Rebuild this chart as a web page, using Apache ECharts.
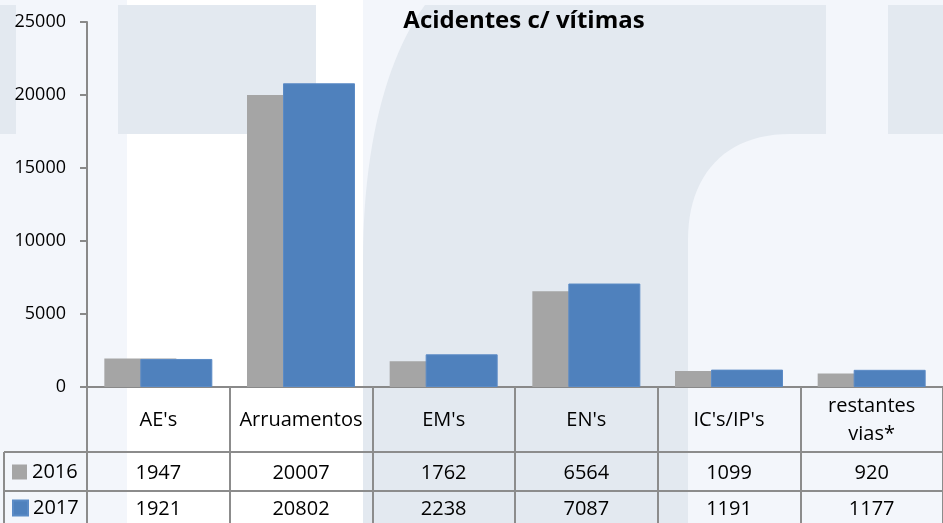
<!DOCTYPE html>
<html>
<head>
<meta charset="utf-8">
<script src="https://cdn.jsdelivr.net/npm/echarts@6/dist/echarts.min.js"></script>
<style>
html,body{margin:0;padding:0;background:#f3f6fb;}
#chart{width:943px;height:523px;}
</style>
</head>
<body>
<div id="chart"></div>
<script>
const categories = ["AE's", "Arruamentos", "EM's", "EN's", "IC's/IP's", "restantes\nvias*"];
const seriesNames = ["2016", "2017"];
const values2016 = [1947, 20007, 1762, 6564, 1099, 920];
const values2017 = [1921, 20802, 2238, 7087, 1191, 1177];
const yTicks = [0, 5000, 10000, 15000, 20000, 25000];

const FONT = '"Open Sans", sans-serif';
const LINE = '#8c8c8c';
const DARK = '#e3e9f0';

const chart = echarts.init(document.getElementById('chart'), null, {renderer: 'canvas'});

// decorative watermark outline (cubic curves sampled into a polygon)
function cubic(p0, p1, p2, p3, n) {
  const pts = [];
  for (let k = 0; k <= n; k++) {
    const t = k / n, u = 1 - t;
    pts.push([
      u*u*u*p0[0] + 3*u*u*t*p1[0] + 3*u*t*t*p2[0] + t*t*t*p3[0],
      u*u*u*p0[1] + 3*u*u*t*p1[1] + 3*u*t*t*p2[1] + t*t*t*p3[1]
    ]);
  }
  return pts;
}
const logoPts = [[363, 523]]
  .concat(cubic([363, 260], [363, 150], [385, 60], [425, 5], 24))
  .concat([[826, 5], [826, 134]])
  .concat(cubic([790, 134], [725, 134], [688, 175], [688, 240], 24))
  .concat([[688, 523]]);

const bgShapes = [
  {type: 'rect', shape: {x: 127, y: 0, width: 236, height: 523}, style: {fill: '#ffffff'}, z: -5, silent: true},
  {type: 'rect', shape: {x: 0, y: 5, width: 16, height: 129}, style: {fill: DARK}, z: -4, silent: true},
  {type: 'rect', shape: {x: 118, y: 5, width: 198, height: 129}, style: {fill: DARK}, z: -4, silent: true},
  {type: 'rect', shape: {x: 888, y: 5, width: 55, height: 129}, style: {fill: DARK}, z: -4, silent: true},
  {type: 'polygon', shape: {points: logoPts}, style: {fill: DARK}, z: -4, silent: true}
];

const tableLines = [
  {type: 'line', shape: {x1: 4, y1: 452, x2: 943, y2: 452}, style: {stroke: LINE, lineWidth: 2}, z: 10, silent: true},
  {type: 'line', shape: {x1: 4, y1: 491, x2: 943, y2: 491}, style: {stroke: LINE, lineWidth: 2}, z: 10, silent: true},
  {type: 'line', shape: {x1: 4, y1: 452, x2: 4, y2: 523}, style: {stroke: LINE, lineWidth: 2}, z: 10, silent: true}
];

function valueAxis(vals, margin) {
  return {
    type: 'category',
    data: categories,
    position: 'bottom',
    gridIndex: 0,
    axisLine: {show: false},
    axisTick: {show: false},
    axisLabel: {
      interval: 0,
      margin: margin,
      verticalAlign: 'middle',
      color: '#000',
      fontFamily: FONT,
      fontSize: 20,
      formatter: function (v, i) { return String(vals[i]); }
    }
  };
}

function legendRow(name, top) {
  return {
    data: [name],
    left: 7,
    top: top,
    itemWidth: 15,
    itemHeight: 15,
    itemGap: 0,
    icon: 'rect',
    textStyle: {fontFamily: FONT, fontSize: 20, color: '#000'}
  };
}

const option = {
  backgroundColor: '#f3f6fb',
  animation: false,
  title: {
    text: 'Acidentes c/ vítimas',
    left: 519,
    top: 4,
    textAlign: 'center',
    textStyle: {fontFamily: FONT, fontWeight: 'bold', fontSize: 24, color: '#000'}
  },
  legend: [legendRow(seriesNames[0], 457), legendRow(seriesNames[1], 493)],
  grid: {left: 87, right: 0, top: 22, bottom: 136, containLabel: false},
  graphic: bgShapes.concat(tableLines),
  xAxis: [
    {
      type: 'category',
      data: categories,
      position: 'bottom',
      axisLine: {lineStyle: {color: '#898989', width: 2}},
      axisTick: {show: true, inside: false, length: 136, interval: 0, lineStyle: {color: LINE, width: 2}},
      axisLabel: {
        interval: 0,
        margin: 33,
        verticalAlign: 'middle',
        align: 'center',
        color: '#000',
        fontFamily: FONT,
        fontSize: 20,
        lineHeight: 28
      }
    },
    valueAxis(values2016, 86),
    valueAxis(values2017, 122)
  ],
  yAxis: {
    type: 'value',
    min: yTicks[0],
    max: yTicks[yTicks.length - 1],
    interval: 5000,
    axisLine: {show: true, lineStyle: {color: '#898989', width: 2}},
    axisTick: {show: true, length: 7, lineStyle: {color: '#898989', width: 2}},
    splitLine: {show: false},
    axisLabel: {
      margin: 21,
      color: '#000',
      fontFamily: FONT,
      fontSize: 18,
      formatter: function (v) { return yTicks.indexOf(v) >= 0 ? String(v) : ''; }
    }
  },
  series: [
    {
      name: seriesNames[0],
      type: 'bar',
      data: values2016,
      barWidth: 72,
      barGap: '-50%',
      itemStyle: {color: '#a5a5a5'},
      z: 2
    },
    {
      name: seriesNames[1],
      type: 'bar',
      data: values2017,
      barWidth: 72,
      barGap: '-50%',
      itemStyle: {color: '#4f81bd', borderColor: '#5b8bc6', borderWidth: 1},
      z: 3
    }
  ]
};

chart.setOption(option);
</script>
</body>
</html>
